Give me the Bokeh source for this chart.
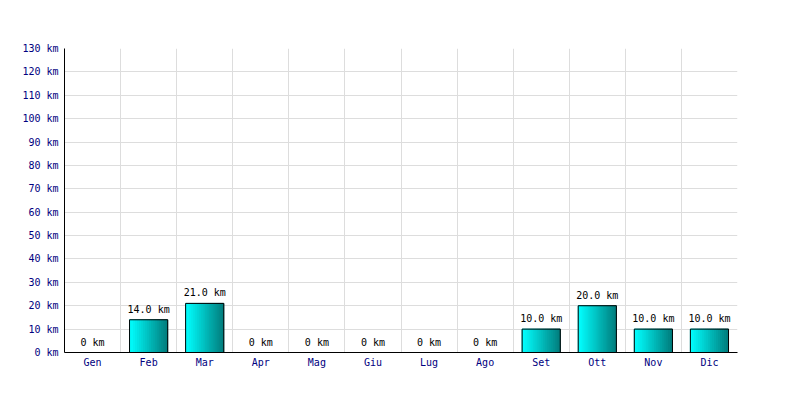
from bokeh.plotting import figure
from bokeh.models import FixedTicker, PrintfTickFormatter, ColumnDataSource, Range1d
from bokeh.core.properties import value
from bokeh.embed import file_html
from bokeh.resources import INLINE

months = ["Gen", "Feb", "Mar", "Apr", "Mag", "Giu", "Lug", "Ago", "Set", "Ott", "Nov", "Dic"]
km = [0, 14.0, 21.0, 0, 0, 0, 0, 0, 10.0, 20.0, 10.0, 10.0]
y_ticks = list(range(0, 140, 10))

FONT = "DejaVu Sans Mono"
p = figure(width=784, height=384, output_backend="svg", toolbar_location=None,
           x_range=Range1d(-0.5, len(months) - 0.5), y_range=Range1d(0, 130),
           min_border_left=64, min_border_right=47, min_border_top=48, min_border_bottom=32)
p.outline_line_color = None
p.background_fill_color = "white"

# gradient bars via vertical stripes
n = 19
bw = 0.68
L, R, T, B, C = [], [], [], [], []
def lerp(a, b, t):
    return int(round(a + (b - a) * t))
for i, v in enumerate(km):
    if v <= 0:
        continue
    x0 = i - bw / 2
    for k in range(n):
        t = k / (n - 1)
        L.append(x0 + bw * k / n)
        R.append(x0 + bw * (k + 1) / n)
        T.append(v)
        B.append(0)
        C.append("#%02x%02x%02x" % (0, lerp(255, 128, t), lerp(255, 128, t)))
p.quad(left=L, right=R, top=T, bottom=B, fill_color=C, line_color=C, line_width=1)
xs = [i for i, v in enumerate(km) if v > 0]
vs = [v for v in km if v > 0]
p.quad(left=[x - bw / 2 for x in xs], right=[x + bw / 2 for x in xs], top=vs, bottom=[0] * len(vs),
       fill_color=None, line_color="black", line_width=1)

labels = [("%.1f km" % v) if v > 0 else "0 km" for v in km]
src = ColumnDataSource(dict(x=list(range(len(months))), y=km, t=labels))
p.text(x="x", y="y", text="t", source=src, text_align="center", text_baseline="bottom",
       y_offset=-5, text_font=value(FONT), text_font_size="10px", text_color="black")

p.yaxis.ticker = FixedTicker(ticks=y_ticks)
p.yaxis.formatter = PrintfTickFormatter(format="%d km")
p.xaxis.ticker = FixedTicker(ticks=list(range(len(months))))
p.xaxis.major_label_overrides = {i: m for i, m in enumerate(months)}
for ax in (p.xaxis, p.yaxis):
    ax.major_tick_in = 0
    ax.major_tick_out = 0
    ax.minor_tick_in = 0
    ax.minor_tick_out = 0
    ax.axis_line_color = "black"
    ax.axis_line_width = 1
    ax.major_label_text_font = FONT
    ax.major_label_text_font_size = "10px"
    ax.major_label_text_color = "#000080"
p.yaxis.major_label_standoff = 6
p.xaxis.major_label_standoff = 4

p.xgrid.ticker = FixedTicker(ticks=[i - 0.5 for i in range(len(months) + 1)])
p.xgrid.grid_line_color = "#dddddd"
p.ygrid.grid_line_color = "#dddddd"

open("out.html", "w").write(file_html(p, INLINE))
